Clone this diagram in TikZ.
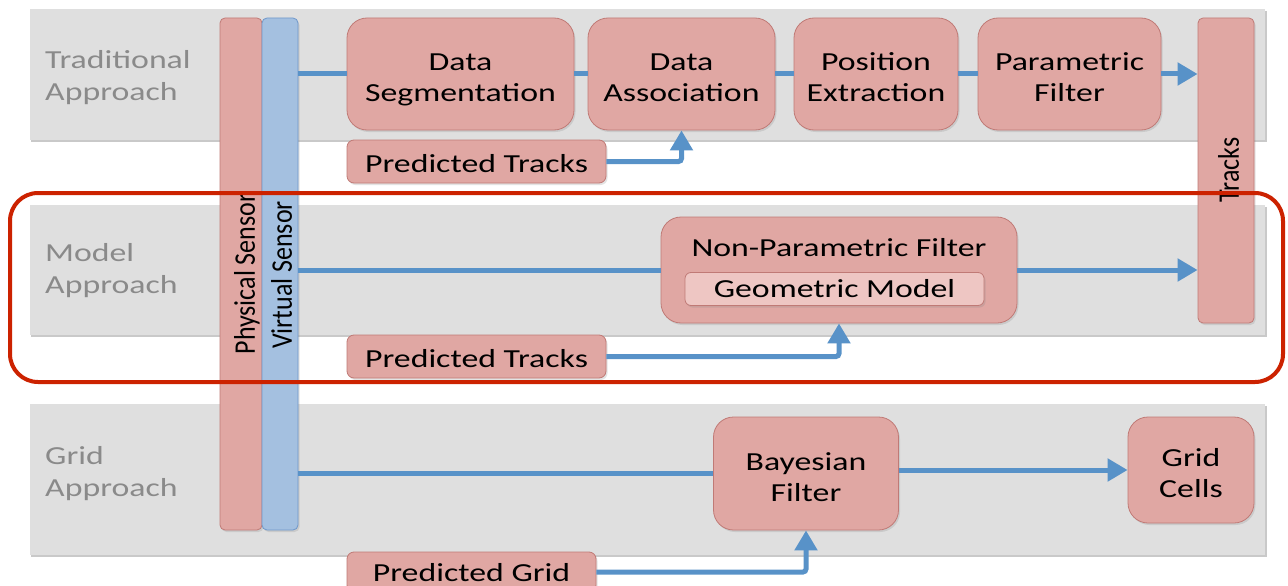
\documentclass[tikz,border=0pt]{standalone}
\usepackage{fontspec}
\setmainfont[FakeStretch=1.3]{Carlito}
\newfontfamily\rotfont{Carlito}
\usetikzlibrary{arrows.meta,calc,shadows}
\definecolor{bandgray}{HTML}{DFDFDF}
\definecolor{bandshadow}{HTML}{C9C9C9}
\definecolor{boxfill}{HTML}{E0A7A3}
\definecolor{boxline}{HTML}{C07A76}
\definecolor{innerfill}{HTML}{EEC6C3}
\definecolor{barblue}{HTML}{A4C0E0}
\definecolor{barblueline}{HTML}{6F98CB}
\definecolor{flowblue}{HTML}{5892C8}
\definecolor{labelgray}{HTML}{8A8A8A}
\definecolor{framered}{HTML}{CC2200}
\newcommand\topstrut{\rule{0pt}{34pt}}
\newcommand\botstrut{\rule[-9.3pt]{0pt}{0pt}}
\tikzset{
  txt/.style={font=\fontsize{26}{31}\selectfont},
  band/.style={fill=bandgray, draw=none},
  softshadow/.style={drop shadow={opacity=0.22, shadow xshift=1.5pt, shadow yshift=-2pt}},
  box/.style={txt, draw=boxline, fill=boxfill, line width=0.8pt, rounded corners=20pt, align=center, inner sep=0pt, softshadow},
  smallbox/.style={box, rounded corners=7pt},
  bluebar/.style={draw=barblueline, fill=barblue, line width=0.8pt, rounded corners=5pt, inner sep=0pt},
  redbar/.style={draw=boxline, fill=boxfill, line width=0.8pt, rounded corners=5pt, inner sep=0pt, softshadow},
  lbl/.style={font=\fontsize{26}{32}\selectfont, text=labelgray, align=left, anchor=west, inner sep=0pt},
  flow/.style={draw=flowblue, line width=5pt},
  flowarrow/.style={flow, -{Triangle[length=20pt,width=22pt]}},
  rottxt/.style={font=\rotfont\fontsize{26}{31}\selectfont, xscale=1.15, rotate=90, inner sep=0pt},
}
\begin{document}
\begin{tikzpicture}[x=1pt,y=-1pt]
\useasboundingbox (0,0) rectangle (1288,586);
\clip (0,0) rectangle (1288,586);
\fill[white] (0,0) rectangle (1288,586);
% bands
\fill[bandshadow] (31,11) rectangle (1267,142);
\fill[bandshadow] (31,207) rectangle (1267,337);
\fill[bandshadow] (31,406) rectangle (1267,557);
\fill[band] (30,9) rectangle (1265,140);
\fill[band] (30,205) rectangle (1265,335);
\fill[band] (30,404) rectangle (1265,555);
% band labels
\node[lbl] (lt) at (45,78) {Traditional\\Approach};
\node[lbl] (lm) at (45,271) {Model\\Approach};
\node[lbl] (lg) at (45,474) {Grid\\Approach};
% sensor bars
\node[redbar, minimum width=42pt, minimum height=512pt] (phys) at (241,274) {};
\node[bluebar, minimum width=36pt, minimum height=512pt, softshadow] (virt) at (280,274) {};
\node[rottxt] (physt) at (247,274) {Physical Sensor};
\node[rottxt] (virtt) at (281.5,275) {Virtual Sensor};
% tracks bar
\node[redbar, minimum width=56pt, minimum height=305pt] (tracks) at (1226,170.5) {};
\node[rottxt] (trackst) at (1228.5,170) {Tracks};
% traditional row
\node[box, minimum width=227pt, minimum height=112pt] (seg) at (460.5,74) {\topstrut Data\\Segmentation\botstrut};
\node[box, minimum width=187pt, minimum height=112pt] (assoc) at (681.5,74) {\topstrut Data\\Association\botstrut};
\node[box, minimum width=164pt, minimum height=112pt] (pos) at (876,74) {\topstrut Position\\Extraction\botstrut};
\node[box, minimum width=183pt, minimum height=112pt] (param) at (1069.5,74) {\topstrut Parametric\\Filter\botstrut};
\node[smallbox, minimum width=259pt, minimum height=43pt] (pt1) at (476.5,161.5) {\rule{0pt}{23pt}Predicted Tracks};
% model row
\node[box, minimum width=356pt, minimum height=106pt] (npf) at (839,270) {};
\node[txt, inner sep=0pt] (npft) at (839,248) {Non-Parametric Filter};
\node[smallbox, fill=innerfill, minimum width=299pt, minimum height=33pt, rounded corners=6pt] (geo) at (834.5,289) {Geometric Model};
\node[smallbox, minimum width=259pt, minimum height=43pt] (pt2) at (476.5,356.5) {\rule{0pt}{23pt}Predicted Tracks};
% grid row
\node[box, minimum width=185pt, minimum height=113pt] (bayes) at (806,473.5) {\topstrut Bayesian\\Filter\botstrut};
\node[box, minimum width=126pt, minimum height=106pt] (cells) at (1191,470) {\topstrut Grid\\Cells\botstrut};
\node[smallbox, minimum width=249pt, minimum height=40pt] (pgrid) at (471.5,572) {\rule{0pt}{20pt}Predicted Grid};
% flows traditional
\draw[flow] (virt.east |- seg.west) -- (seg.west);
\draw[flow] (seg.east) -- (assoc.west);
\draw[flow] (assoc.east) -- (pos.west);
\draw[flow] (pos.east) -- (param.west);
\draw[flowarrow] (param.east) -- (tracks.west |- param.east);
\draw[flowarrow, rounded corners=3pt] (pt1.east) -| (assoc.south);
% flows model
\draw[flow] (virt.east |- npf.west) -- (npf.west);
\draw[flowarrow] (npf.east) -- (tracks.west |- npf.east);
\draw[flowarrow, rounded corners=3pt] (pt2.east) -| (npf.south);
% flows grid
\draw[flow] (virt.east |- bayes.west) -- (bayes.west);
\draw[flowarrow] (bayes.east |- cells.west) -- (cells.west);
\draw[flowarrow, rounded corners=3pt] (pgrid.east) -| (bayes.south);
% red frame
\draw[framered, line width=4pt, rounded corners=28pt] (10,193) rectangle (1283,382);
\end{tikzpicture}
\end{document}
